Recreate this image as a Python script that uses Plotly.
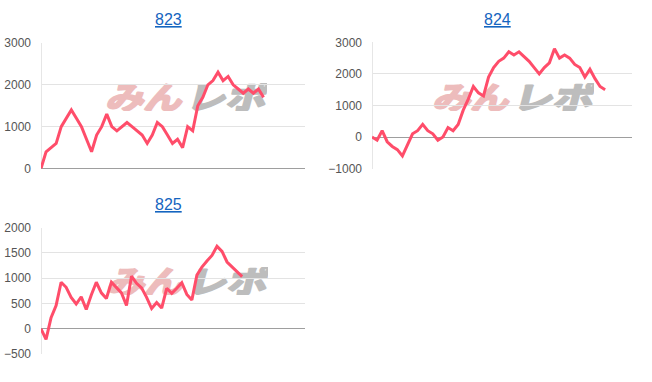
import base64
import plotly.graph_objects as go

# ---- data ----
titles = ["823", "824", "825"]
s823 = [0, 400, 500, 600, 1000, 1200, 1400, 1200, 1000, 700, 400, 800, 1000, 1300, 1000,
        900, 1000, 1100, 1000, 900, 800, 600, 800, 1100, 1000, 800, 600, 700, 500, 1000,
        900, 1500, 1700, 2000, 2100, 2300, 2100, 2200, 2000, 1900, 1800, 1900, 1800, 1900, 1700]
s824 = [0, -100, 200, -150, -300, -400, -600, -250, 100, 200, 400, 200, 100, -100, 0,
        300, 200, 400, 850, 1200, 1600, 1400, 1300, 1900, 2200, 2400, 2500, 2700, 2600, 2700,
        2550, 2400, 2200, 2000, 2200, 2350, 2800, 2500, 2600, 2500, 2300, 2200, 1900, 2150, 1850,
        1600, 1500]
s825 = [0, -210, 220, 460, 920, 820, 620, 490, 630, 380, 670, 920, 710, 600, 920,
        820, 710, 460, 1040, 900, 810, 620, 400, 520, 410, 800, 700, 800, 910, 680,
        570, 1060, 1220, 1340, 1450, 1630, 1530, 1320, 1220, 1130, 1030]
series = [s823, s824, s825]
y_ticks = [[0, 1000, 2000, 3000],
           [-1000, 0, 1000, 2000, 3000],
           [-500, 0, 500, 1000, 1500, 2000]]

W, H = 652, 382
LINE = "#ff4d6a"
GRID = "#e3e3e3"
BASE = "#9e9e9e"
TICKC = "#555555"
TITLEC = "#1565c0"

# plot areas in pixels: (x0, x1, ytop, ybottom), x range max
areas = [(41, 305, 37.3, 167.7, 52.2),
         (372, 632, 36.7, 167.7, 51.3),
         (41, 305, 229.0, 360.3, 52.5)]

fig = go.Figure()
layout = dict(width=W, height=H, margin=dict(l=0, r=0, t=0, b=0),
              paper_bgcolor="white", plot_bgcolor="white", showlegend=False,
              font=dict(family="Liberation Sans, Arial, sans-serif", size=12, color=TICKC))

# watermark svg
svg = ("<svg xmlns='http://www.w3.org/2000/svg' width='162' height='29' viewBox='0 0 162 29' "
       "preserveAspectRatio='none'>"
       "<g transform='skewX(-14) translate(7,0)'>"
       "<text x='0' y='27' font-family='Noto Sans CJK JP' font-weight='bold' font-size='32' "
       "fill='#edbcbc' stroke='#edbcbc' stroke-width='2.2' stroke-linejoin='round' "
       "textLength='76' lengthAdjust='spacingAndGlyphs'>みん</text>"
       "<text x='80' y='27' font-family='Noto Sans CJK JP' font-weight='bold' font-size='32' "
       "fill='#bdbdbd' stroke='#bdbdbd' stroke-width='2.2' stroke-linejoin='round' "
       "textLength='80' lengthAdjust='spacingAndGlyphs'>レポ</text>"
       "</g></svg>")
src = "data:image/svg+xml;base64," + base64.b64encode(svg.encode("utf-8")).decode("ascii")
logos = [(105, 79), (432, 79), (106, 270)]

images = []
annotations = []
for i, (vals, ticks, (x0, x1, yt, yb, xmax)) in enumerate(zip(series, y_ticks, areas)):
    n = "" if i == 0 else str(i + 1)
    fig.add_trace(go.Scatter(x=list(range(len(vals))), y=vals, mode="lines",
                             line=dict(color=LINE, width=3), xaxis="x" + n, yaxis="y" + n,
                             hoverinfo="skip"))
    layout["xaxis" + n] = dict(domain=[x0 / W, x1 / W], range=[0, xmax], showgrid=False,
                               showticklabels=False, zeroline=True, zerolinecolor="#e6e6e6",
                               zerolinewidth=1, anchor="y" + n, fixedrange=True)
    layout["yaxis" + n] = dict(domain=[1 - yb / H, 1 - yt / H], range=[ticks[0], ticks[-1]],
                               tickvals=ticks, showgrid=True, gridcolor=GRID, gridwidth=1,
                               zeroline=True, zerolinecolor=BASE, zerolinewidth=1,
                               anchor="x" + n, ticklabelstandoff=9,
                               tickfont=dict(size=12, color=TICKC), fixedrange=True)
    annotations.append(dict(text="<u>" + titles[i] + "</u>", xref="paper", yref="paper",
                            x=(x0 + x1) / 2 / W - 5 / W, y=1 - (yt - 24) / H,
                            xanchor="center", yanchor="middle", showarrow=False,
                            font=dict(size=16, color=TITLEC,
                                      family="Liberation Sans, Arial, sans-serif")))
    lx, ly = logos[i]
    images.append(dict(source=src, xref="paper", yref="paper", x=lx / W, y=1 - ly / H,
                       sizex=162 / W, sizey=29 / H, sizing="stretch", xanchor="left",
                       yanchor="top", layer="below", opacity=1))

layout["annotations"] = annotations
layout["images"] = images
fig.update_layout(**layout)
fig.write_html("out.html")
